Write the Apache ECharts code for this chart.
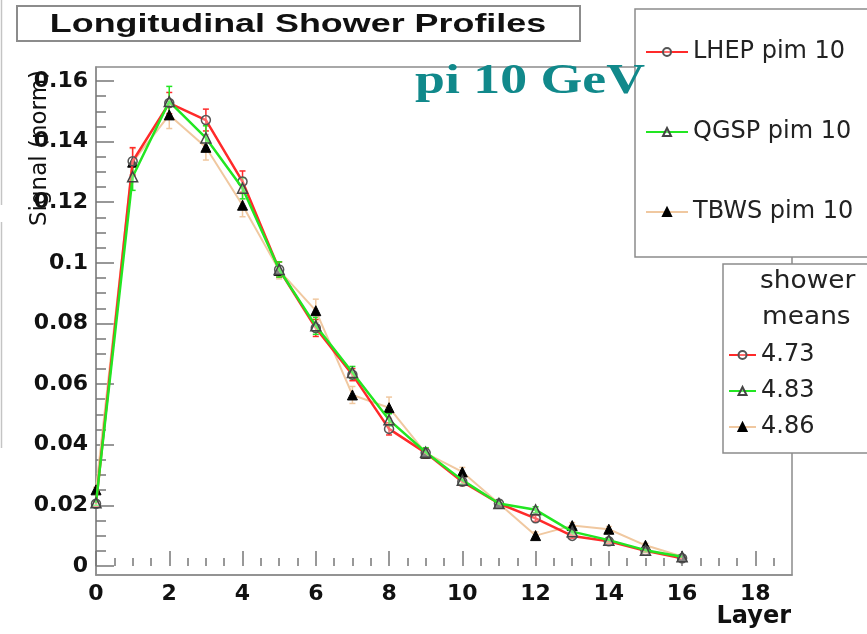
<!DOCTYPE html>
<html>
<head>
<meta charset="utf-8">
<script src="https://cdn.jsdelivr.net/npm/echarts@6/dist/echarts.min.js"></script>
<style>
  html, body { margin: 0; padding: 0; background: #fff; }
  #chart { width: 867px; height: 634px; }
</style>
</head>
<body>
<div id="chart"></div>
<script>
// Layer index (x) and normalised signal per layer for each physics list
const layers = [0, 1, 2, 3, 4, 5, 6, 7, 8, 9, 10, 11, 12, 13, 14, 15, 16];

const lhep = [0.0205, 0.1335, 0.1527, 0.1471, 0.1268, 0.0978, 0.0785, 0.0631, 0.0452, 0.0373, 0.0278, 0.0206, 0.0157, 0.0099, 0.0081, 0.0050, 0.0025];
const qgsp = [0.0208, 0.1284, 0.1532, 0.1412, 0.1246, 0.0978, 0.0792, 0.0638, 0.0482, 0.0375, 0.0283, 0.0206, 0.0185, 0.0113, 0.0085, 0.0052, 0.0030];
const tbws = [0.0251, 0.1332, 0.1488, 0.1381, 0.1190, 0.0975, 0.0842, 0.0564, 0.0522, 0.0372, 0.0310, 0.0206, 0.0100, 0.0133, 0.0121, 0.0068, 0.0031];

// Statistical errors per layer
const lhepErr = [0.0008, 0.0045, 0.0035, 0.0036, 0.0035, 0.0025, 0.0028, 0.0020, 0.0020, 0.0015, 0.0013, 0.0010, 0.0010, 0.0008, 0.0007, 0.0006, 0.0004];
const qgspErr = [0.0008, 0.0045, 0.0050, 0.0040, 0.0035, 0.0025, 0.0028, 0.0020, 0.0020, 0.0015, 0.0013, 0.0010, 0.0010, 0.0008, 0.0007, 0.0006, 0.0004];
const tbwsErr = [0.0008, 0.0045, 0.0045, 0.0042, 0.0038, 0.0028, 0.0038, 0.0028, 0.0035, 0.0016, 0.0015, 0.0012, 0.0012, 0.0010, 0.0009, 0.0007, 0.0005];

const seriesNames = ['LHEP pim 10', 'QGSP pim 10', 'TBWS pim 10'];
const showerMeans = ['4.73', '4.83', '4.86'];

// Axis ticks and labels
const xMajorTicks = [0, 2, 4, 6, 8, 10, 12, 14, 16, 18];
const xMinorTicks = [0.5, 1, 1.5, 2.5, 3, 3.5, 4.5, 5, 5.5, 6.5, 7, 7.5, 8.5, 9, 9.5, 10.5, 11, 11.5, 12.5, 13, 13.5, 14.5, 15, 15.5, 16.5, 17, 17.5, 18.5];
const yMajorTicks = [0, 0.02, 0.04, 0.06, 0.08, 0.1, 0.12, 0.14, 0.16];
const yMinorTicks = [0.005, 0.01, 0.015, 0.025, 0.03, 0.035, 0.045, 0.05, 0.055, 0.065, 0.07, 0.075, 0.085, 0.09, 0.095, 0.105, 0.11, 0.115, 0.125, 0.13, 0.135, 0.145, 0.15, 0.155];

const X_MIN = 0, X_MAX = 19;
const Y_MIN = -0.003, Y_MAX = 0.1646;

const colRed = '#ff2a2a';
const colGreen = '#22e622';
const colTan = '#f0c8a0';
const frameGrey = '#8c8c8c';

function pointsWithErr(vals, errs) {
  return layers.map((l, i) => [l, vals[i], errs[i]]);
}
function points(vals) {
  return layers.map((l, i) => [l, vals[i]]);
}

function errorBarRenderer(color) {
  return function (params, api) {
    const x = api.value(0), y = api.value(1), e = api.value(2);
    const top = api.coord([x, y + e]);
    const bot = api.coord([x, y - e]);
    const w = 3;
    const style = { stroke: color, lineWidth: 1.5 };
    return {
      type: 'group',
      children: [
        { type: 'line', shape: { x1: top[0], y1: top[1], x2: bot[0], y2: bot[1] }, style },
        { type: 'line', shape: { x1: top[0] - w, y1: top[1], x2: top[0] + w, y2: top[1] }, style },
        { type: 'line', shape: { x1: bot[0] - w, y1: bot[1], x2: bot[0] + w, y2: bot[1] }, style }
      ]
    };
  };
}

const axisFont = { fontFamily: 'DejaVu Sans', fontWeight: 'bold', fontSize: 22, color: '#111' };
const tickStyle = { color: '#777', width: 1.5 };

// An axis that carries only a set of inward ticks (no line, no labels)
function tickAxis(min, max, position, values, length) {
  return {
    type: 'value', min, max, position,
    axisLine: { show: false },
    axisTick: { show: true, inside: true, length, customValues: values, lineStyle: tickStyle },
    axisLabel: { show: false },
    splitLine: { show: false }
  };
}

const chart = echarts.init(document.getElementById('chart'), null, { renderer: 'canvas' });

const legendText = { fontFamily: 'DejaVu Sans', fontSize: 24, color: '#222' };

chart.setOption({
  animation: false,
  backgroundColor: '#fff',
  grid: {
    left: 96, top: 67, width: 696, height: 508,
    show: true, borderColor: frameGrey, borderWidth: 1.5, backgroundColor: 'transparent',
    containLabel: false, outerBoundsMode: 'none'
  },
  xAxis: [
    {
      type: 'value', min: X_MIN, max: X_MAX, position: 'bottom',
      axisLine: { show: true, onZero: false, lineStyle: { color: frameGrey, width: 1.5 } },
      axisTick: { show: false },
      axisLabel: Object.assign({ customValues: xMajorTicks, margin: 8 }, axisFont),
      splitLine: { show: false }
    },
    tickAxis(X_MIN, X_MAX, 'bottom', xMajorTicks, 15),
    tickAxis(X_MIN, X_MAX, 'bottom', xMinorTicks, 8)
  ],
  yAxis: [
    {
      type: 'value', min: Y_MIN, max: Y_MAX, position: 'left',
      axisLine: { show: true, onZero: false, lineStyle: { color: frameGrey, width: 1.5 } },
      axisTick: { show: false },
      axisLabel: Object.assign({ customValues: yMajorTicks, margin: 8 }, axisFont),
      splitLine: { show: false }
    },
    tickAxis(Y_MIN, Y_MAX, 'left', yMajorTicks, 18),
    tickAxis(Y_MIN, Y_MAX, 'left', yMinorTicks, 10)
  ],
  legend: [
    {
      data: seriesNames, orient: 'vertical', left: 635, top: 9,
      padding: [31, 40, 33, 10], itemGap: 56, itemWidth: 42, itemHeight: 10,
      backgroundColor: '#fff', borderColor: frameGrey, borderWidth: 1.5,
      textStyle: legendText, selectedMode: false, z: 10
    },
    {
      data: seriesNames, orient: 'vertical', left: 723, top: 264,
      padding: [79, 60, 14, 5], itemGap: 12, itemWidth: 27, itemHeight: 10,
      backgroundColor: '#fff', borderColor: frameGrey, borderWidth: 1.5,
      textStyle: legendText, selectedMode: false, z: 10,
      formatter: name => showerMeans[seriesNames.indexOf(name)]
    }
  ],
  graphic: [
    { type: 'line', shape: { x1: 1.5, y1: 0, x2: 1.5, y2: 205 }, style: { stroke: '#c4c4c4', lineWidth: 1.5 }, z: 1 },
    { type: 'line', shape: { x1: 1.5, y1: 222, x2: 1.5, y2: 448 }, style: { stroke: '#c4c4c4', lineWidth: 1.5 }, z: 1 },
    {
      type: 'rect', shape: { x: 17, y: 6, width: 563, height: 35 },
      style: { fill: '#fff', stroke: frameGrey, lineWidth: 2 }, z: 20
    },
    {
      type: 'text', x: 298, y: 25, scaleX: 1.38, z: 21,
      style: {
        text: 'Longitudinal Shower Profiles', align: 'center', verticalAlign: 'middle',
        fontFamily: 'Liberation Sans', fontWeight: 'bold', fontSize: 26, fill: '#111'
      }
    },
    {
      type: 'text', x: 415, y: 82, scaleX: 1.28, z: 21,
      style: {
        text: 'pi 10 GeV', align: 'left', verticalAlign: 'middle',
        fontFamily: 'Liberation Serif', fontWeight: 'bold', fontSize: 42, fill: '#11898b'
      }
    },
    {
      type: 'text', x: 40, y: 148, rotation: Math.PI / 2, z: 21,
      style: {
        text: 'Signal (norm)', align: 'center', verticalAlign: 'middle',
        fontFamily: 'DejaVu Sans', fontSize: 23, fill: '#111'
      }
    },
    {
      type: 'text', x: 791, y: 617, z: 21,
      style: {
        text: 'Layer', align: 'right', verticalAlign: 'middle',
        fontFamily: 'DejaVu Sans', fontWeight: 'bold', fontSize: 24, fill: '#111'
      }
    },
    {
      type: 'text', x: 760, y: 282, scaleX: 1.1, z: 21,
      style: { text: 'shower', align: 'left', verticalAlign: 'middle', fontFamily: 'DejaVu Sans', fontSize: 24, fill: '#222' }
    },
    {
      type: 'text', x: 762, y: 318, scaleX: 1.1, z: 21,
      style: { text: 'means', align: 'left', verticalAlign: 'middle', fontFamily: 'DejaVu Sans', fontSize: 24, fill: '#222' }
    }
  ],
  series: [
    {
      type: 'custom', name: 'TBWS errors', z: 1, data: pointsWithErr(tbws, tbwsErr),
      renderItem: errorBarRenderer(colTan), encode: { x: 0, y: 1 }, silent: true
    },
    {
      type: 'custom', name: 'LHEP errors', z: 1, data: pointsWithErr(lhep, lhepErr),
      renderItem: errorBarRenderer(colRed), encode: { x: 0, y: 1 }, silent: true
    },
    {
      type: 'custom', name: 'QGSP errors', z: 1, data: pointsWithErr(qgsp, qgspErr),
      renderItem: errorBarRenderer(colGreen), encode: { x: 0, y: 1 }, silent: true
    },
    {
      type: 'line', name: seriesNames[2], z: 2, data: points(tbws),
      lineStyle: { color: colTan, width: 2 },
      symbol: 'triangle', symbolSize: 10,
      itemStyle: { color: '#000', borderColor: '#000', borderWidth: 1 }
    },
    {
      type: 'line', name: seriesNames[0], z: 3, data: points(lhep),
      lineStyle: { color: colRed, width: 2.5 },
      symbol: 'circle', symbolSize: 9,
      itemStyle: { color: 'rgba(255,255,255,0.3)', borderColor: '#555', borderWidth: 1.5 }
    },
    {
      type: 'line', name: seriesNames[1], z: 4, data: points(qgsp),
      lineStyle: { color: colGreen, width: 2.5 },
      symbol: 'triangle', symbolSize: 10,
      itemStyle: { color: 'rgba(255,255,255,0.3)', borderColor: '#444', borderWidth: 1.5 }
    }
  ]
});
</script>
</body>
</html>
